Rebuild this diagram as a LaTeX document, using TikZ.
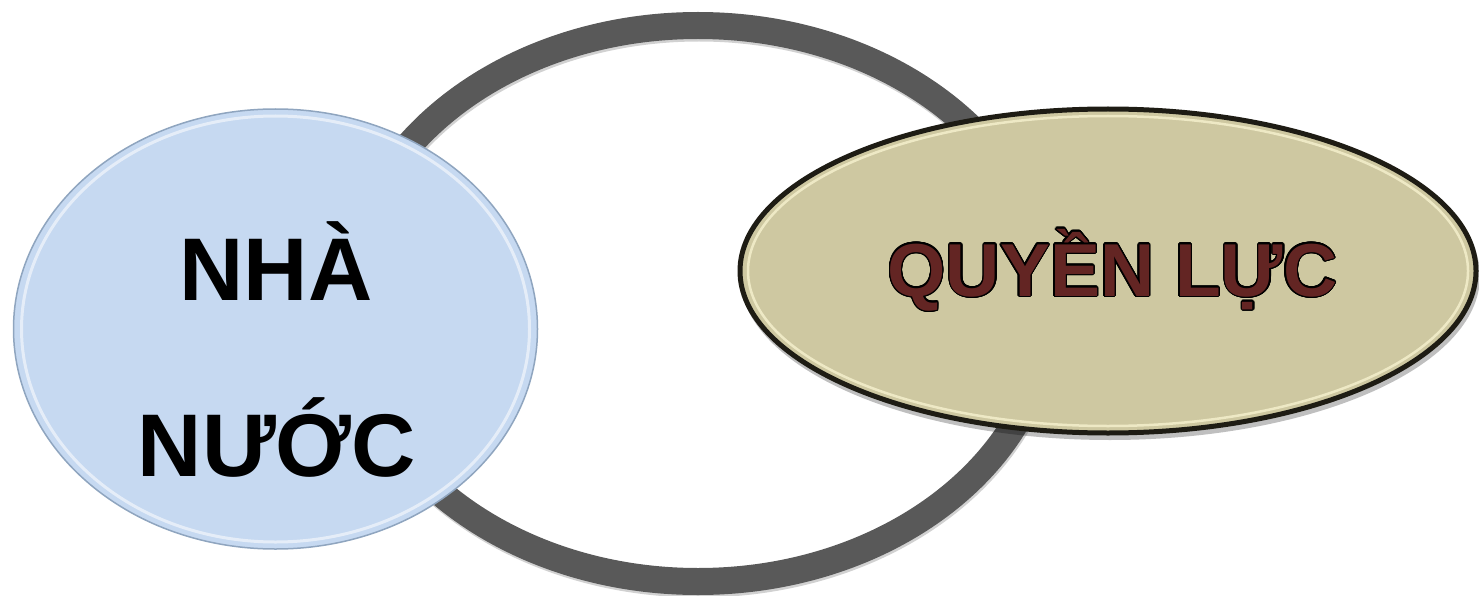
\documentclass[tikz,border=0pt]{standalone}
\usepackage{fontspec}
\setmainfont{Liberation Sans}
\usepackage{contour}
\contourlength{1.3pt}
\contournumber{24}
\usetikzlibrary{shapes.geometric}

\definecolor{vongxam}{HTML}{595959}
\definecolor{nenxanh}{HTML}{C6D9F1}
\definecolor{bienxanh}{HTML}{8FA5BF}
\definecolor{nenvang}{HTML}{CEC8A1}
\definecolor{bienden}{HTML}{1E1C14}
\definecolor{vienkem}{HTML}{F6F2CF}
\definecolor{chudo}{HTML}{632523}

\begin{document}
\begin{tikzpicture}[x=1pt, y=-1pt,
    oxanh/.style={ellipse, draw=bienxanh, line width=1.5pt, fill=nenxanh,
        minimum width=524pt, minimum height=440pt},
    ovang/.style={ellipse, draw=bienden, line width=5pt, fill=nenvang,
        minimum width=736pt, minimum height=324pt},
    chuden/.style={font=\fontsize{89}{89}\selectfont\bfseries, anchor=base},
    chunau/.style={font=\fontsize{75}{75}\selectfont\bfseries, text=chudo, anchor=base}]
    \useasboundingbox (0,0) rectangle (1479,596);

    % vòng xám phía sau
    \draw[line width=27pt, black, opacity=0.18] (699,306) ellipse (351.5 and 278);
    \draw[line width=27pt, vongxam] (698,303.5) ellipse (351.5 and 278);

    % hình bầu dục bên trái
    \node[oxanh] (nhanuoc) at (275.5,329) {};
    \draw[white, opacity=0.55, line width=3pt] (nhanuoc.center) ellipse (254 and 213);
    \node[chuden] (nha) at (276,300) {NHÀ};
    \node[chuden] (nuoc) at (277,476) {NƯỚC};

    % hình bầu dục bên phải
    \fill[black, opacity=0.25] (1110,276) ellipse (370 and 164);
    \node[ovang] (quyenluc) at (1108,271) {};
    \draw[vienkem, opacity=0.8, line width=2.5pt] (quyenluc.center) ellipse (360 and 155);
    \node[chunau] (chu) at (1112.5,296) {\contour{black}{QUYỀN LỰC}};
\end{tikzpicture}
\end{document}
